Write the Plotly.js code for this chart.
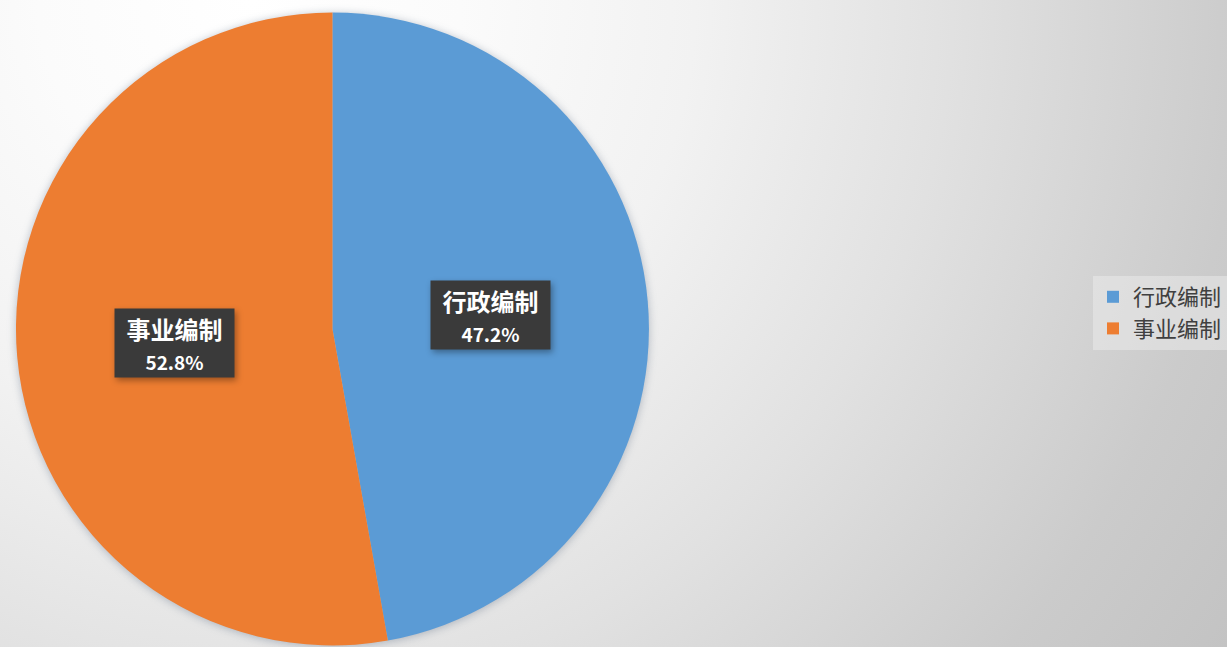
<!DOCTYPE html>
<html>
<head>
<meta charset="utf-8">
<script src="https://cdn.plot.ly/plotly-3.0.1.min.js"></script>
<style>
  html, body { margin:0; padding:0; width:1227px; height:647px; overflow:hidden; }
  body {
    background: radial-gradient(circle farthest-corner at 250px 0px,
      #ffffff 0%, #fbfbfb 18%, #f2f2f2 38%, #e1e1e1 60%, #cbcbcb 85%, #c3c3c3 100%);
  }
  #chart { width:1227px; height:647px; }
  .pielayer { filter: drop-shadow(0px 1px 4px rgba(60,80,110,0.35)); }
  .annotation rect.bg { filter: drop-shadow(2px 3px 3px rgba(0,0,0,0.35)); }
</style>
</head>
<body>
<div id="chart"></div>
<script>
const categories = ['行政编制', '事业编制'];
const values = [47.2, 52.8];
const colors = ['#5B9BD5', '#ED7D31'];

const W = 1227, H = 647;
const domX = [16 / W, 650 / W];
const domY = [1 - 646 / H, 1 - 12 / H];

// label positions derived from data: mid-angle of each slice at half radius
const cx = (domX[0] + domX[1]) / 2 * W;
const cy = (1 - (domY[0] + domY[1]) / 2) * H;
const R = Math.min((domX[1] - domX[0]) * W, (domY[1] - domY[0]) * H) / 2;
const total = values.reduce((a, b) => a + b, 0);
let cum = 0;
const annotations = values.map((v, i) => {
  const mid = (cum + v / 2) / total * 2 * Math.PI;
  cum += v;
  const px = cx + 0.5 * R * Math.sin(mid);
  const py = cy - 0.5 * R * Math.cos(mid);
  return {
    xref: 'paper', yref: 'paper',
    x: px / W, y: 1 - py / H,
    xanchor: 'center', yanchor: 'middle',
    showarrow: false,
    text: '<b>' + categories[i] + '</b><br><span style="font-size:19px"><b>' + (v / total * 100).toFixed(1) + '%</b></span>',
    font: { family: '"Noto Sans CJK SC", "Noto Sans", sans-serif', size: 24, color: '#ffffff' },
    bgcolor: '#3a3a3a',
    borderpad: 4,
    width: 111,
    height: 60,
    align: 'center',
    valign: 'middle'
  };
});

const data = [{
  type: 'pie',
  labels: categories,
  values: values,
  marker: { colors: colors, line: { width: 0 } },
  sort: false,
  direction: 'clockwise',
  rotation: 0,
  textinfo: 'none',
  hoverinfo: 'label+percent',
  domain: { x: domX, y: domY }
}];

const layout = {
  width: W, height: H,
  margin: { l: 0, r: 0, t: 0, b: 0 },
  paper_bgcolor: 'rgba(0,0,0,0)',
  plot_bgcolor: 'rgba(0,0,0,0)',
  showlegend: true,
  legend: {
    x: 1095 / W, xanchor: 'left',
    y: 1 - 313 / H, yanchor: 'middle',
    bgcolor: 'rgba(240,240,240,0.45)',
    font: { family: '"Noto Sans CJK SC", "Noto Sans", sans-serif', size: 22, color: '#404040' },
    tracegroupgap: 0
  },
  annotations: annotations
};

Plotly.newPlot('chart', data, layout, { displayModeBar: false, staticPlot: true });
</script>
</body>
</html>
